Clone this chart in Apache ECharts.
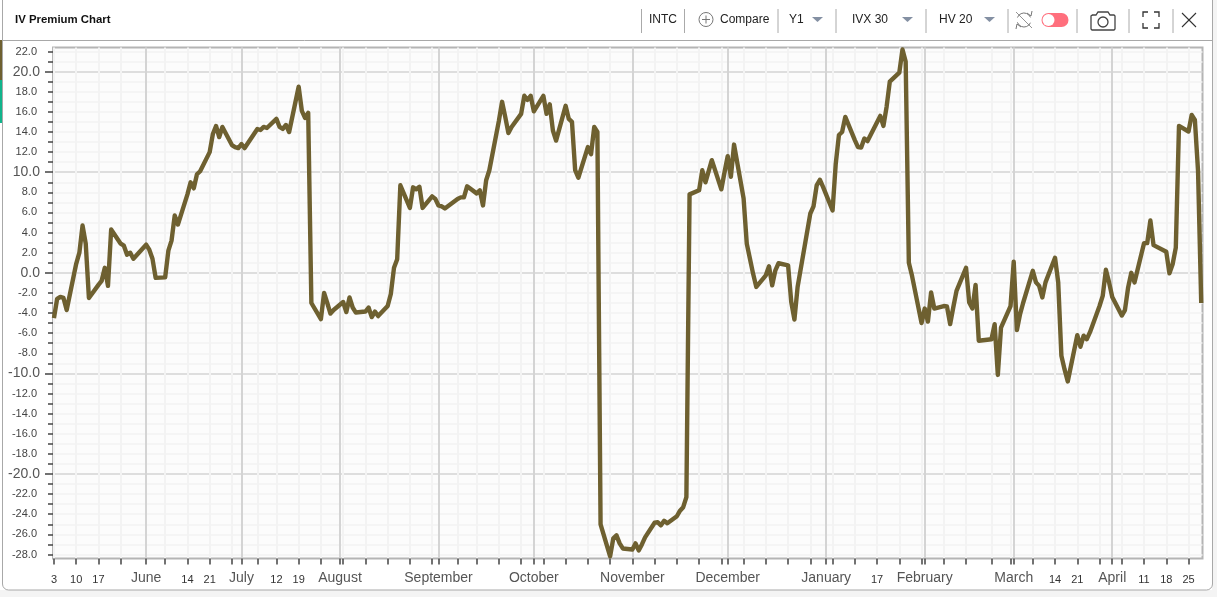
<!DOCTYPE html>
<html><head><meta charset="utf-8">
<style>html,body{margin:0;padding:0;background:#fff}#c{width:1217px;height:597px}</style>
<script src="https://cdn.jsdelivr.net/npm/echarts@6/dist/echarts.min.js"></script>
</head><body><div id="c"></div>
<script>
// IV premium readings: [day of month, value]
const may21=[[3,-4.5],[4,-2.6],[5,-2.4],[6,-2.5],[7,-3.7],[10,0.9],[11,2.0],[12,4.7],[13,2.9],[14,-2.5],[17,-1.2],[18,-0.8],[19,0.5],[20,-1.3],[21,4.3],[24,2.9],[25,2.7],[26,1.8],[27,2.0],[28,1.4]];
const jun21=[[1,2.8],[2,2.3],[3,1.4],[4,-0.5],[7,-0.45],[8,2.2],[9,3.2],[10,5.7],[11,4.8],[14,7.8],[15,9.0],[16,8.4],[17,9.8],[18,10.1],[21,12.0],[22,13.8],[23,14.6],[24,13.5],[25,14.5],[28,12.7],[29,12.5],[30,12.4]];
const jul21=[[1,12.8],[2,12.4],[6,14.3],[7,14.2],[8,14.5],[9,14.4],[12,15.3],[13,14.5],[14,14.3],[15,14.7],[16,14.0],[19,18.5],[20,16.1],[21,15.4],[22,15.9],[23,-3.0],[26,-4.6],[27,-2.0],[28,-3.0],[29,-4.05],[30,-3.7]];
const aug21=[[2,-2.9],[3,-3.9],[4,-2.45],[5,-3.45],[6,-3.95],[9,-3.85],[10,-3.45],[11,-4.4],[12,-3.85],[13,-4.3],[16,-3.3],[17,-2.1],[18,0.5],[19,1.35],[20,8.7],[23,6.45],[24,8.5],[25,8.3],[26,8.55],[27,6.45],[30,7.6],[31,7.35]];
const sep21=[[1,6.7],[2,6.6],[3,6.4],[7,7.35],[8,7.5],[9,7.5],[10,8.6],[13,7.9],[14,8.2],[15,6.7],[16,9.2],[17,10.2],[20,15.1],[21,17.0],[22,15.5],[23,13.9],[24,14.5],[27,15.8],[28,17.6],[29,17.2],[30,17.6]];
const oct21=[[1,16.05],[4,17.6],[5,15.8],[6,16.75],[7,14.15],[8,13.15],[11,16.6],[12,15.3],[13,15.0],[14,10.2],[15,9.45],[18,12.5],[19,11.8],[20,14.5],[21,14.0],[22,-25.0],[25,-28.2],[26,-26.4],[27,-26.1],[28,-26.9],[29,-27.4]];
const nov21=[[1,-27.5],[2,-26.9],[3,-27.6],[4,-27.0],[5,-26.3],[8,-24.85],[9,-24.8],[10,-25.1],[11,-24.65],[12,-24.9],[15,-24.2],[16,-23.65],[17,-23.3],[18,-22.3],[19,7.8],[22,8.2],[23,10.2],[24,9.0],[26,11.2],[29,8.3],[30,10.0]];
const dec21=[[1,11.6],[2,9.55],[3,12.75],[6,7.4],[7,2.9],[8,1.4],[9,-0.1],[10,-1.4],[13,-0.25],[14,0.65],[15,-1.25],[16,0.25],[17,0.95],[20,0.75],[21,-2.9],[22,-4.65],[23,-1.4],[27,5.9],[28,6.6],[29,8.7],[30,9.25],[31,8.55]];
const jan22=[[3,6.2],[4,10.85],[5,13.7],[6,14.0],[7,15.5],[10,13.2],[11,12.5],[12,12.45],[13,13.35],[14,13.1],[18,15.6],[19,14.6],[20,16.5],[21,19.0],[24,19.9],[25,22.2],[26,21.0],[27,1.0],[28,-0.3],[31,-5.0]];
const feb22=[[1,-3.55],[2,-4.85],[3,-1.95],[4,-3.55],[7,-3.3],[8,-3.35],[9,-5.1],[10,-3.4],[11,-1.8],[14,0.5],[15,-2.95],[16,-3.55],[17,-1.2],[18,-6.75],[22,-6.6],[23,-5.1],[24,-10.15],[25,-5.45],[28,-3.3]];
const mar22=[[1,1.1],[2,-5.7],[3,-4.1],[4,-2.95],[7,0.2],[8,-0.95],[9,-1.3],[10,-2.45],[11,-0.95],[14,1.5],[15,-0.95],[16,-8.25],[17,-9.6],[18,-10.8],[21,-6.2],[22,-7.35],[23,-6.25],[24,-6.6],[25,-5.9],[28,-3.3],[29,-2.3],[30,0.3],[31,-0.95]];
const apr22=[[1,-2.4],[4,-4.25],[5,-3.7],[6,-1.45],[7,0.0],[8,-0.95],[11,2.95],[12,2.95],[13,5.2],[14,2.75],[18,2.1],[19,-0.05],[20,0.85],[21,2.5],[22,14.6],[25,14.05],[26,15.7],[27,15.2],[28,10.1],[29,-3.0]];
const monthTable=[[2021,4,may21],[2021,5,jun21],[2021,6,jul21],[2021,7,aug21],[2021,8,sep21],[2021,9,oct21],[2021,10,nov21],[2021,11,dec21],[2022,0,jan22],[2022,1,feb22],[2022,2,mar22],[2022,3,apr22]];
const monthLabels=[[2021,5,'June'],[2021,6,'July'],[2021,7,'August'],[2021,8,'September'],[2021,9,'October'],[2021,10,'November'],[2021,11,'December'],[2022,0,'January'],[2022,1,'February'],[2022,2,'March'],[2022,3,'April']];
const weekDays=[[2021,4,[3,10,17,24]],[2021,5,[7,14,21,28]],[2021,6,[6,12,19,26]],[2021,7,[2,9,16,23,30]],[2021,8,[7,13,20,27]],[2021,9,[4,11,18,25]],[2021,10,[8,15,22,29]],[2021,11,[6,13,20,27]],[2022,0,[3,10,17,24,31]],[2022,1,[7,14,22,28]],[2022,2,[7,14,21,28]],[2022,3,[4,11,18,25]]];
const labelledDays=[[2021,4,[3,10,17]],[2021,5,[14,21]],[2021,6,[12,19]],[2022,0,[17]],[2022,2,[14,21]],[2022,3,[11,18,25]]];
const yMinorTicks=[22,21,19,18,17,16,15,14,13,12,11,9,8,7,6,5,4,3,2,1,-1,-2,-3,-4,-5,-6,-7,-8,-9,-11,-12,-13,-14,-15,-16,-17,-18,-19,-21,-22,-23,-24,-25,-26,-27,-28];
const yMinorLabels=[22,18,16,14,12,8,6,4,2,-2,-4,-6,-8,-12,-14,-16,-18,-22,-24,-26,-28];
const yMajorTicks=[20,10,0,-10,-20];

const U=(y,m,d)=>Date.UTC(y,m,d);
const seriesData=[];
monthTable.forEach(([y,m,rows])=>rows.forEach(([d,v])=>seriesData.push([U(y,m,d),v])));
const monthTicks=monthLabels.map(([y,m])=>U(y,m,1));
const monthName={};monthLabels.forEach(([y,m,n])=>monthName[U(y,m,1)]=n);
const flat=t=>{const o=[];t.forEach(([y,m,ds])=>ds.forEach(d=>o.push(U(y,m,d))));return o;};
const weekTicks=flat(weekDays), weekLabels=flat(labelledDays);
const xMin=U(2021,4,3)-0.3*864e5, xMax=U(2022,3,29)+0.4*864e5;
const yMin=-28.4,yMax=22.4;
const FONT='"Liberation Sans",Arial,sans-serif';
const hide={show:false,onZero:false};

const xBase={type:'value',scale:true,min:xMin,max:xMax,position:'bottom',gridIndex:0,axisLine:hide};
const yBase={type:'value',min:yMin,max:yMax,position:'left',gridIndex:0,axisLine:hide};

const txt=(x,t,extra)=>({type:'text',x,y:20,z:20,style:Object.assign({text:t,font:'12px '+FONT,fill:'#222',textVerticalAlign:'middle'},extra||{})});
const sep=x=>({type:'line',z:20,shape:{x1:x,y1:9,x2:x,y2:33},style:{stroke:'#aaa',lineWidth:1}});
const tri=x=>({type:'polygon',z:20,shape:{points:[[x,17],[x+11,17],[x+5.5,22]]},style:{fill:'#8490a3'}});
const pl=(points,stroke,w)=>({type:'polyline',z:20,shape:{points},style:{fill:'none',stroke,lineWidth:w}});
const arc=(cx,cy,r,a,b,stroke,w)=>({type:'arc',z:20,shape:{cx,cy,r,startAngle:a,endAngle:b,clockwise:true},style:{fill:'none',stroke,lineWidth:w}});

const graphic=[
 {type:'rect',z:1,shape:{x:0,y:590,width:1217,height:7},style:{fill:'#f4f4f4'}},
 {type:'rect',z:2,shape:{x:1212,y:0,width:5,height:597},style:{fill:'#f4f4f4'}},
 {type:'rect',z:3,shape:{x:2.5,y:-6,width:1210,height:596,r:6},style:{fill:'none',stroke:'#a8a8a8',lineWidth:1}},
 {type:'line',z:3,shape:{x1:2,y1:40.5,x2:1212,y2:40.5},style:{stroke:'#a8a8a8',lineWidth:1}},
 {type:'rect',z:4,shape:{x:0,y:40,width:2,height:40},style:{fill:'#6e6030'}},
 {type:'rect',z:4,shape:{x:0,y:80,width:2,height:43},style:{fill:'#10b48c'}},
 txt(15,'IV Premium Chart',{font:'bold 11.4px '+FONT,fill:'#111'}),
 sep(641.5),sep(684.5),sep(778),sep(836),sep(926),sep(1008),sep(1077),sep(1129),sep(1173),
 txt(649,'INTC'),
 {type:'circle',z:20,shape:{cx:706,cy:19.5,r:7},style:{fill:'none',stroke:'#777',lineWidth:1}},
 {type:'line',z:20,shape:{x1:702,y1:19.5,x2:710,y2:19.5},style:{stroke:'#777',lineWidth:1}},
 {type:'line',z:20,shape:{x1:706,y1:15.5,x2:706,y2:23.5},style:{stroke:'#777',lineWidth:1}},
 txt(720,'Compare'),
 txt(789,'Y1'),tri(812),
 txt(852,'IVX 30'),tri(902),
 txt(939,'HV 20'),tri(984),
 arc(1024,20,7,3.5,5.9,'#777',1),
 arc(1024,20,7,0.4,2.8,'#777',1),
 pl([[1027,13],[1031,16],[1032,11]],'#777',1),
 pl([[1021,27],[1017,24],[1016,29]],'#777',1),
 {type:'line',z:20,shape:{x1:1016,y1:12,x2:1032,y2:28},style:{stroke:'#777',lineWidth:0.8}},
 {type:'rect',z:20,shape:{x:1041.5,y:13,width:27,height:14,r:7},style:{fill:'#ff6f7d'}},
 {type:'circle',z:21,shape:{cx:1048.5,cy:20,r:6},style:{fill:'#fff'}},
 pl([[1092,15],[1096,15],[1098,12],[1108,12],[1110,15],[1114,15],[1115,16],[1115,29],[1114,30],[1092,30],[1091,29],[1091,16],[1092,15]],'#444',1.3),
 {type:'circle',z:20,shape:{cx:1103,cy:22,r:5},style:{fill:'none',stroke:'#444',lineWidth:1.3}},
 pl([[1143,17],[1143,12],[1148,12]],'#333',1.3),pl([[1154,12],[1159,12],[1159,17]],'#333',1.3),
 pl([[1159,23],[1159,28],[1154,28]],'#333',1.3),pl([[1148,28],[1143,28],[1143,23]],'#333',1.3),
 {type:'line',z:20,shape:{x1:1182,y1:13,x2:1196,y2:27},style:{stroke:'#333',lineWidth:1.1}},
 {type:'line',z:20,shape:{x1:1196,y1:13,x2:1182,y2:27},style:{stroke:'#333',lineWidth:1.1}}
];

const chart=echarts.init(document.getElementById('c'),null,{renderer:'canvas'});
chart.setOption({
 animation:false,backgroundColor:'#fff',textStyle:{fontFamily:FONT},
 graphic,
 grid:{left:53,right:14.5,top:47.5,bottom:38.5,show:true,backgroundColor:'#fcfcfc',borderColor:'#b4b4b4',borderWidth:2},
 xAxis:[
  Object.assign({},xBase,{
   axisTick:{show:true,length:6,customValues:weekTicks,lineStyle:{color:'#444',width:1.5}},
   axisLabel:{show:true,customValues:weekLabels,margin:16,fontSize:11,color:'#333',showMinLabel:true,showMaxLabel:true,hideOverlap:false,formatter:v=>String(new Date(v).getUTCDate())},
   splitLine:{show:true,lineStyle:{color:'#f3f3f3',width:2}}}),
  Object.assign({},xBase,{
   axisTick:{show:true,length:6,customValues:monthTicks,lineStyle:{color:'#444',width:1.5}},
   axisLabel:{show:true,customValues:monthTicks,margin:13,fontSize:14,color:'#555',hideOverlap:false,formatter:v=>monthName[v]||''},
   splitLine:{show:true,lineStyle:{color:'#d4d4d4',width:2}}})
 ],
 yAxis:[
  Object.assign({},yBase,{
   axisTick:{show:true,length:5,customValues:yMinorTicks,lineStyle:{color:'#444',width:1.5}},
   axisLabel:{show:true,customValues:yMinorLabels,margin:16,fontSize:11,color:'#444',hideOverlap:false,formatter:v=>v.toFixed(1)},
   splitLine:{show:true,lineStyle:{color:'#f3f3f3',width:1.5}}}),
  Object.assign({},yBase,{
   axisTick:{show:true,length:8,customValues:yMajorTicks,lineStyle:{color:'#444',width:1.5}},
   axisLabel:{show:true,customValues:yMajorTicks,margin:13,fontSize:14,color:'#555',hideOverlap:false,formatter:v=>v.toFixed(1)},
   splitLine:{show:true,lineStyle:{color:'#d4d4d4',width:1.5}}})
 ],
 series:[{type:'line',xAxisIndex:0,yAxisIndex:0,data:seriesData,showSymbol:false,smooth:false,clip:false,z:10,
  lineStyle:{color:'#6e6030',width:4.4,join:'round'}}]
});
</script></body></html>
